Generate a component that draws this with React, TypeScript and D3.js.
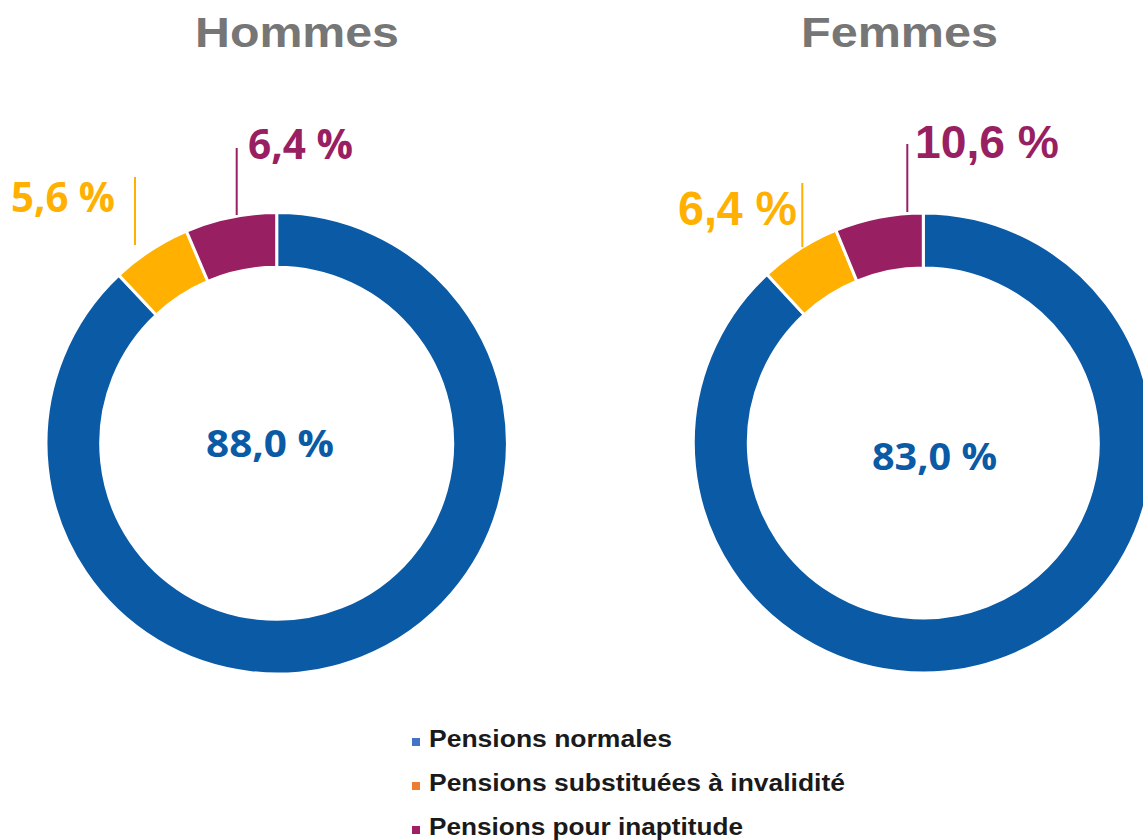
import React from "react";
import * as d3 from "d3";

// ---- data ----
const categories = [
  "Pensions normales",
  "Pensions substituées à invalidité",
  "Pensions pour inaptitude",
];
const hommesValues = [88.0, 5.6, 6.4];
const femmesValues = [83.0, 6.4, 10.6]; // printed values
// slice sizes as actually drawn in the reference for the "Femmes" ring
const femmesDrawnShares = [88.1, 5.7, 6.2];
const panelTitles = ["Hommes", "Femmes"];

const segmentColors = ["#0b5aa6", "#ffb000", "#991f63"];
const legendColors = ["#4472c4", "#ed7d31", "#9e1f63"];

const fmt = (v: number) => d3.format(".1f")(v).replace(".", ",") + " %";

// ---- layout ----
type SideLabel = { x: number; y: number; len: number; size: number; font: string; lx: number; ly1: number; ly2: number };
const ARIAL = "Liberation Sans, Arial, sans-serif";
const OPEN = "Open Sans, sans-serif";
const panels = [
  {
    title: panelTitles[0],
    values: hommesValues,
    shares: hommesValues,
    cx: 276.7, cy: 443.3, R: 230.7, r: 176,
    titleX: 195, titleLen: 204,
    center: { x: 206, y: 457, len: 128, size: 38, font: OPEN },
    side: [
      null,
      { x: 11, y: 212, len: 104, size: 41, font: OPEN, lx: 135, ly1: 177, ly2: 245 },
      { x: 248, y: 159, len: 105, size: 41, font: OPEN, lx: 236.7, ly1: 148, ly2: 215 },
    ] as (SideLabel | null)[],
  },
  {
    title: panelTitles[1],
    values: femmesValues,
    shares: femmesDrawnShares,
    cx: 923.3, cy: 443, R: 230, r: 175,
    titleX: 801, titleLen: 197,
    center: { x: 872, y: 470, len: 125, size: 38, font: OPEN },
    side: [
      null,
      { x: 678, y: 225, len: 119, size: 48, font: ARIAL, lx: 802.3, ly1: 183, ly2: 247 },
      { x: 915, y: 158, len: 144, size: 46, font: ARIAL, lx: 907.3, ly1: 144, ly2: 212 },
    ] as (SideLabel | null)[],
  },
];

const legendX = 412;
const legendY0 = 738;
const legendStep = 44;
const legendLens = [243, 416, 314];

export default function App() {
  const pie = d3
    .pie<number>()
    .sort(null)
    .value((d) => d)
    .startAngle(0)
    .endAngle(2 * Math.PI);

  return (
    <svg
      width={1143}
      height={840}
      style={{ position: "absolute", left: 0, top: 0, background: "#fff" }}
    >
      {panels.map((p, pi) => {
        const arc = d3.arc<d3.PieArcDatum<number>>().innerRadius(p.r).outerRadius(p.R);
        const arcs = pie(p.shares);
        return (
          <g key={pi}>
            <text
              x={p.titleX}
              y={47}
              fontFamily={ARIAL}
              fontWeight={700}
              fontSize={42}
              fill="#767676"
              textLength={p.titleLen}
              lengthAdjust="spacingAndGlyphs"
            >
              {p.title}
            </text>
            <g transform={`translate(${p.cx},${p.cy})`}>
              {arcs.map((a, i) => (
                <path
                  key={i}
                  d={arc(a) as string}
                  fill={segmentColors[i]}
                  stroke="#fff"
                  strokeWidth={3}
                />
              ))}
            </g>
            <text
              x={p.center.x}
              y={p.center.y}
              fontFamily={p.center.font}
              fontWeight={700}
              fontSize={p.center.size}
              fill={segmentColors[0]}
              textLength={p.center.len}
              lengthAdjust="spacingAndGlyphs"
            >
              {fmt(p.values[0])}
            </text>
            {p.side.map((s, i) =>
              s ? (
                <g key={i}>
                  <line
                    x1={s.lx}
                    x2={s.lx}
                    y1={s.ly1}
                    y2={s.ly2}
                    stroke={segmentColors[i]}
                    strokeWidth={2}
                  />
                  <text
                    x={s.x}
                    y={s.y}
                    fontFamily={s.font}
                    fontWeight={700}
                    fontSize={s.size}
                    fill={segmentColors[i]}
                    textLength={s.len}
                    lengthAdjust="spacingAndGlyphs"
                  >
                    {fmt(p.values[i])}
                  </text>
                </g>
              ) : null
            )}
          </g>
        );
      })}
      {categories.map((c, i) => (
        <g key={c}>
          <rect
            x={legendX}
            y={legendY0 + i * legendStep}
            width={8}
            height={8}
            fill={legendColors[i]}
          />
          <text
            x={legendX + 17}
            y={legendY0 + i * legendStep + 9}
            fontFamily={ARIAL}
            fontWeight={700}
            fontSize={23}
            fill="#1a1a1a"
            textLength={legendLens[i]}
            lengthAdjust="spacingAndGlyphs"
          >
            {c}
          </text>
        </g>
      ))}
    </svg>
  );
}
